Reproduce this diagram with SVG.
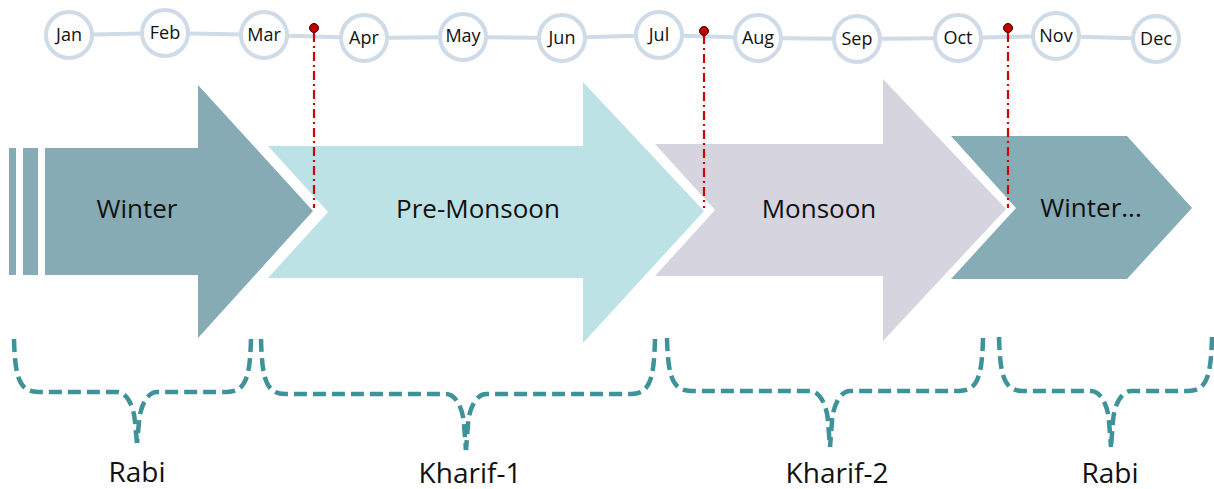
<svg xmlns="http://www.w3.org/2000/svg" width="1214" height="489" viewBox="0 0 1214 489">
<style>
.month circle{fill:#fff;stroke:#cfdbe7;stroke-width:4}
.month text{font-family:"Open Sans","Noto Sans",sans-serif;font-size:18px;fill:#111;text-anchor:middle}
.lbl{font-family:"Open Sans","Noto Sans",sans-serif;font-size:26px;fill:#111;text-anchor:middle}
.crop{font-family:"Open Sans","Noto Sans",sans-serif;font-size:28px;fill:#111;text-anchor:middle}
.tl{stroke:#cfdbe7;stroke-width:4;fill:none}
.brace{fill:none;stroke:#3e9299;stroke-width:4.5;stroke-dasharray:13 6}
.red{stroke:#d40000;stroke-width:2.2;stroke-dasharray:9 4 2 4;fill:none}
.dot{fill:#c00000;stroke:#3a0000;stroke-width:1}
</style>
<rect width="1214" height="489" fill="#fff"/>
<g id="connectors">
<polyline class="tl" points="69,35 165,33 264,35 364,38 463,37 562,38 659,35 758,38 857,39 958,38 1056,36 1156,39"/>
</g>
<g id="arrow-winter">
<rect x="9" y="148" width="7" height="127" fill="#86abb5"/>
<rect x="23" y="148" width="15" height="127" fill="#86abb5"/>
<polygon points="45,148 198,148 198,85 313,211 198,338 198,275 45,275" fill="#86abb5"/>
<text class="lbl" x="137" y="218">Winter</text>
</g>
<g id="arrow-premonsoon">
<polygon points="268,146 583,146 583,82 704,211 583,343 583,278 268,278 328,212" fill="#bde2e6"/>
<text class="lbl" x="478" y="218">Pre-Monsoon</text>
</g>
<g id="arrow-monsoon">
<polygon points="655,144 883,144 883,79 1006,209 883,341 883,276 655,276 715,210" fill="#d5d4df"/>
<text class="lbl" x="819" y="218">Monsoon</text>
</g>
<g id="arrow-winter2">
<polygon points="951,136 1127,136 1192,208 1127,279 951,279 1016,208" fill="#86acb5"/>
<text class="lbl" x="1091" y="217">Winter...</text>
</g>
<g id="months">
<g id="m-jan" class="month"><circle cx="69" cy="35" r="23"/><text x="69" y="41">Jan</text></g>
<g id="m-feb" class="month"><circle cx="165" cy="33" r="23"/><text x="165" y="39">Feb</text></g>
<g id="m-mar" class="month"><circle cx="264" cy="35" r="23"/><text x="264" y="41">Mar</text></g>
<g id="m-apr" class="month"><circle cx="364" cy="38" r="23"/><text x="364" y="44">Apr</text></g>
<g id="m-may" class="month"><circle cx="463" cy="37" r="23"/><text x="463" y="42">May</text></g>
<g id="m-jun" class="month"><circle cx="562" cy="38" r="23"/><text x="562" y="44">Jun</text></g>
<g id="m-jul" class="month"><circle cx="659" cy="35" r="23"/><text x="659" y="41">Jul</text></g>
<g id="m-aug" class="month"><circle cx="758" cy="38" r="23"/><text x="758" y="44">Aug</text></g>
<g id="m-sep" class="month"><circle cx="857" cy="39" r="23"/><text x="857" y="45">Sep</text></g>
<g id="m-oct" class="month"><circle cx="958" cy="38" r="23"/><text x="958" y="44">Oct</text></g>
<g id="m-nov" class="month"><circle cx="1056" cy="36" r="23"/><text x="1056" y="42">Nov</text></g>
<g id="m-dec" class="month"><circle cx="1156" cy="39" r="23"/><text x="1156" y="45">Dec</text></g>
</g>
<g id="markers">
<line class="red" x1="314" y1="33" x2="314" y2="208"/>
<line class="red" x1="704" y1="35" x2="704" y2="208"/>
<line class="red" x1="1008" y1="33" x2="1008" y2="208"/>
<circle class="dot" cx="314" cy="28" r="4.5"/>
<circle class="dot" cx="704" cy="31" r="4.5"/>
<circle class="dot" cx="1008" cy="28" r="4.5"/>
</g>
<g id="brace-rabi1">
<path class="brace" d="M14,339 C15,374 18,392 38,392 L117,392 C127,392 134,407 135,422 L137,443"/>
<path class="brace" d="M251,339 C250,374 247,392 227,392 L157,392 C147,392 140,407 139,422 L137,443"/>
<text class="crop" x="137" y="482">Rabi</text>
</g>
<g id="brace-kharif1">
<path class="brace" d="M261,339 C262,376 265,394 285,394 L446,394 C456,394 463,409 464,424 L466,450"/>
<path class="brace" d="M655,339 C654,376 651,394 631,394 L486,394 C476,394 469,409 468,424 L466,450"/>
<text class="crop" x="470" y="483">Kharif-1</text>
</g>
<g id="brace-kharif2">
<path class="brace" d="M667,338 C668,373 671,391 691,391 L810,391 C820,391 827,406 828,421 L830,447"/>
<path class="brace" d="M983,338 C982,373 979,391 959,391 L850,391 C840,391 833,406 832,421 L830,447"/>
<text class="crop" x="837" y="483">Kharif-2</text>
</g>
<g id="brace-rabi2">
<path class="brace" d="M999,337 C1000,373 1003,391 1023,391 L1091,391 C1101,391 1108,406 1109,421 L1111,447"/>
<path class="brace" d="M1212,337 C1211,373 1208,391 1188,391 L1131,391 C1121,391 1114,406 1113,421 L1111,447"/>
<text class="crop" x="1110" y="483">Rabi</text>
</g>
</svg>
